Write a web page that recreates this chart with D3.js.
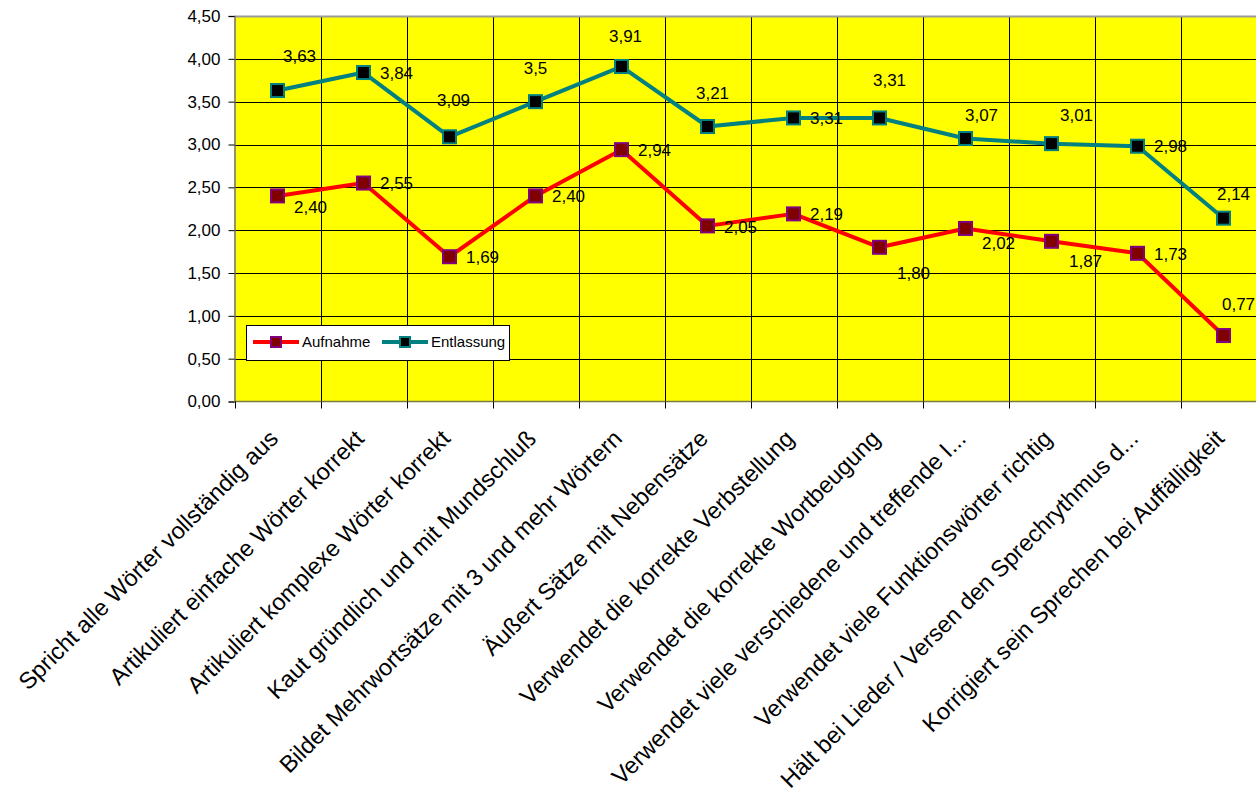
<!DOCTYPE html>
<html>
<head>
<meta charset="utf-8">
<script src="https://cdn.jsdelivr.net/npm/d3@7"></script>
<style>
  html, body { margin: 0; padding: 0; background: #ffffff; }
  svg { display: block; font-family: "Liberation Sans", Arial, sans-serif; }
</style>
</head>
<body>
<svg id="chart" width="1256" height="794"></svg>
<script>
const categories = [
  "Spricht alle Wörter vollständig aus",
  "Artikuliert einfache Wörter korrekt",
  "Artikuliert komplexe Wörter korrekt",
  "Kaut gründlich und mit Mundschluß",
  "Bildet Mehrwortsätze mit 3 und mehr Wörtern",
  "Äußert Sätze mit Nebensätze",
  "Verwendet die korrekte Verbstellung",
  "Verwendet die korrekte Wortbeugung",
  "Verwendet viele verschiedene und treffende I...",
  "Verwendet viele Funktionswörter richtig",
  "Hält bei Lieder / Versen den Sprechrythmus d...",
  "Korrigiert sein Sprechen bei Auffälligkeit"
];
const aufnahme   = [2.40, 2.55, 1.69, 2.40, 2.94, 2.05, 2.19, 1.80, 2.02, 1.87, 1.73, 0.77];
const entlassung = [3.63, 3.84, 3.09, 3.5, 3.91, 3.21, 3.31, 3.31, 3.07, 3.01, 2.98, 2.14];
const yTicks = [0, 0.5, 1, 1.5, 2, 2.5, 3, 3.5, 4, 4.5];
const seriesNames = ["Aufnahme", "Entlassung"];

// label placement offsets (relative to each point), layout only
const aufOffsets = [[33,11],[33,0],[33,0],[33,0],[33,0],[33,1],[33,0],[34,26],[33,14],[34,20],[33,1],[15,-32]];
const entOffsets = [[22,-35],[33,0],[4,-37],[0,-34],[4,-31],[5,-34],[33,0],[10,-38],[16,-24],[25,-29],[33,0],[10,-24]];

const svg = d3.select("#chart");
const L = 234.5, T = 16, B = 401.5, band = 86;
const R = L + band * categories.length;

const x = d3.scaleBand().domain(categories).range([L, R]).padding(0);
const y = d3.scaleLinear().domain([0, 4.5]).range([B, T]);
const cx = c => x(c) + x.bandwidth() / 2;

const loc = d3.formatLocale({decimal: ",", thousands: ".", grouping: [3], currency: ["", "€"]});
const f2 = loc.format(".2f");
const fGen = v => loc.format("~g")(v);

// plot background
svg.append("rect").attr("x", L).attr("y", T).attr("width", R - L).attr("height", B - T).attr("fill", "#ffff00");

// horizontal gridlines
svg.append("g").selectAll("line").data(yTicks.filter(t => t > 0 && t < 4.5)).join("line")
  .attr("x1", L).attr("x2", R).attr("y1", d => Math.round(y(d)) + 0.5).attr("y2", d => Math.round(y(d)) + 0.5)
  .attr("stroke", "#000").attr("stroke-width", 1);

// vertical gridlines at category boundaries
svg.append("g").selectAll("line").data(categories.slice(1)).join("line")
  .attr("x1", d => Math.round(x(d)) + 0.5).attr("x2", d => Math.round(x(d)) + 0.5)
  .attr("y1", T).attr("y2", B).attr("stroke", "#000").attr("stroke-width", 1);

// top border
svg.append("line").attr("x1", L).attr("x2", R).attr("y1", T + 0.5).attr("y2", T + 0.5)
  .attr("stroke", "#9a9a9a").attr("stroke-width", 2);

// y axis
const yAxis = d3.axisLeft(y).tickValues(yTicks).tickFormat(f2).tickSize(6).tickPadding(8);
const gy = svg.append("g").attr("transform", `translate(${L},0)`).call(yAxis);
gy.select(".domain").attr("stroke", "#707070").attr("stroke-width", 1.5);
gy.selectAll(".tick line").attr("stroke", "#000");
gy.selectAll(".tick text").attr("font-size", 17).attr("font-family", "Liberation Sans, Arial, sans-serif").attr("fill", "#000");

// x axis line + ticks at boundaries
svg.append("line").attr("x1", L).attr("x2", R).attr("y1", B).attr("y2", B)
  .attr("stroke", "#7a7a40").attr("stroke-width", 1.5);
svg.append("g").selectAll("line").data(categories).join("line")
  .attr("x1", d => Math.round(x(d)) + 0.5).attr("x2", d => Math.round(x(d)) + 0.5)
  .attr("y1", B).attr("y2", B + 7).attr("stroke", "#000");

// category labels
svg.append("g").selectAll("text").data(categories).join("text")
  .attr("transform", d => `translate(${cx(d) + 2},440) rotate(-45)`)
  .attr("text-anchor", "end")
  .attr("font-size", 23.5)
  .attr("fill", "#000")
  .text(d => d);

// lines
const line = d3.line().x((d, i) => cx(categories[i])).y(d => y(d));
svg.append("path").datum(aufnahme).attr("d", line).attr("fill", "none").attr("stroke", "#ff0000").attr("stroke-width", 4).attr("stroke-linejoin", "round");
svg.append("path").datum(entlassung).attr("d", line).attr("fill", "none").attr("stroke", "#008080").attr("stroke-width", 4).attr("stroke-linejoin", "round");

// markers
const ms = 13;
function markers(data, fill, stroke) {
  svg.append("g").selectAll("rect").data(data).join("rect")
    .attr("x", (d, i) => cx(categories[i]) - ms / 2)
    .attr("y", d => y(d) - ms / 2)
    .attr("width", ms).attr("height", ms)
    .attr("fill", fill).attr("stroke", stroke).attr("stroke-width", 2);
}
markers(aufnahme, "#800000", "#800080");
markers(entlassung, "#000000", "#008080");

// data labels
function labels(data, offs, fmt) {
  svg.append("g").selectAll("text").data(data).join("text")
    .attr("x", (d, i) => cx(categories[i]) + offs[i][0])
    .attr("y", (d, i) => y(d) + offs[i][1])
    .attr("dy", "0.36em")
    .attr("text-anchor", "middle")
    .attr("font-size", 17)
    .attr("fill", "#000")
    .text(d => fmt(d));
}
labels(aufnahme, aufOffsets, f2);
labels(entlassung, entOffsets, fGen);

// legend
const lg = svg.append("g");
lg.append("rect").attr("x", 246.5).attr("y", 325.5).attr("width", 263).attr("height", 35)
  .attr("fill", "#fff").attr("stroke", "#000").attr("stroke-width", 1);
const legendItems = [
  {name: seriesNames[0], x0: 253, color: "#ff0000", fill: "#800000", stroke: "#800080"},
  {name: seriesNames[1], x0: 382, color: "#008080", fill: "#000000", stroke: "#008080"}
];
legendItems.forEach(it => {
  const ly = 342;
  lg.append("line").attr("x1", it.x0).attr("x2", it.x0 + 46).attr("y1", ly).attr("y2", ly)
    .attr("stroke", it.color).attr("stroke-width", 4);
  lg.append("rect").attr("x", it.x0 + 23 - 5).attr("y", ly - 5).attr("width", 10).attr("height", 10)
    .attr("fill", it.fill).attr("stroke", it.stroke).attr("stroke-width", 2);
  lg.append("text").attr("x", it.x0 + 49).attr("y", ly).attr("dy", "0.36em")
    .attr("font-size", 15).attr("fill", "#000").text(it.name);
});
</script>
</body>
</html>
